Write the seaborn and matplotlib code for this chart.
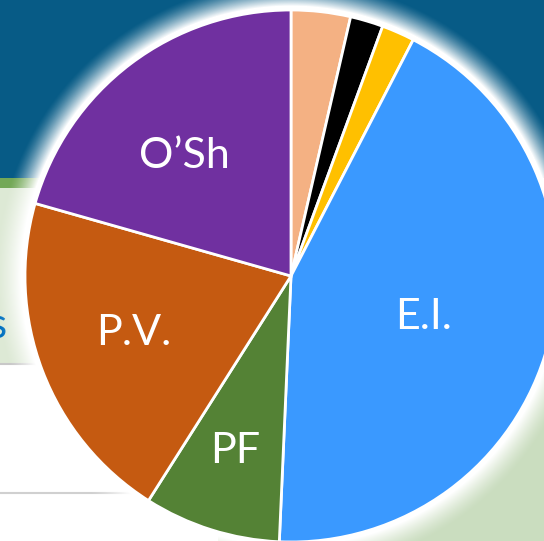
import numpy as np
import matplotlib
matplotlib.use("Agg")
import matplotlib.pyplot as plt
import seaborn as sns
from matplotlib.patches import Rectangle

# ---- data ----
categories = ["", "", "", "E.I.", "PF", "P.V.", "O’Sh"]
values = [3.6, 2.0, 2.0, 43.1, 8.3, 20.4, 20.6]
colors_hex = ["#F4B183", "#000000", "#FFC000", "#3A99FF", "#548235", "#C55A11", "#7030A0"]

sns.set_style("white")
plt.rcParams['font.family'] = ['Lato', 'DejaVu Sans']
palette = sns.color_palette(colors_hex)

W, H = 544, 541
fig = plt.figure(figsize=(W / 100, H / 100), dpi=100)
ax = fig.add_axes([0, 0, 1, 1])


def Y(y):
    return H - y


# ---- slide background ----
ax.add_patch(Rectangle((0, 0), W, H, color='white', zorder=0))
ax.add_patch(Rectangle((0, Y(178)), W, 178, color='#075B86', zorder=0.1, lw=0))
ax.add_patch(Rectangle((0, Y(188)), 220, 10, color='#73A857', zorder=0.1, lw=0))
ax.add_patch(Rectangle((0, Y(363)), 220, 175, color='#DDE9D5', zorder=0.1, lw=0))
ax.plot([0, 220], [Y(364), Y(364)], color='#C8C8C8', lw=1.5, zorder=0.2)
ax.plot([0, 200], [Y(493), Y(493)], color='#D0D0D0', lw=1.5, zorder=0.2)
ax.add_patch(Rectangle((218, 0), W - 218, Y(362), color='#CADDBF', zorder=0.1, lw=0))
ax.text(-2, Y(326), "s", color='#0070C0', fontsize=30, ha='center', va='center', zorder=0.3)

# ---- glow ----
cx, cy, R = 291, Y(276), 266
xs = np.arange(W) + 0.5
ys = H - (np.arange(H) + 0.5)
XX, YY = np.meshgrid(xs, ys)
D = np.hypot(XX - cx, YY - cy)
alpha = np.clip(1 - (D - R - 4) / 26, 0, 1) ** 1.4
img = np.zeros((H, W, 4))
img[..., :3] = 1.0
img[..., 3] = alpha
ax.imshow(img, extent=[0, W, 0, H], origin='upper', zorder=1, interpolation='bilinear')

# ---- pie ----
wedges, _ = ax.pie(values, colors=palette, startangle=90, counterclock=False,
                   center=(cx, cy), radius=R,
                   wedgeprops=dict(edgecolor='white', linewidth=2.0, zorder=2))
for w in wedges:
    w.set_zorder(2)

# label placement: (fraction of radius, angle in degrees)
label_layout = {"O’Sh": (0.605, 131.7), "P.V.": (0.63, 199.8),
                "E.I.": (0.52, -17.2), "PF": (0.69, 252.2)}
for name in categories:
    if name in label_layout:
        f, a = label_layout[name]
        tx = cx + f * R * np.cos(np.radians(a))
        ty = cy + f * R * np.sin(np.radians(a))
        ax.text(tx, ty, name, color='white', fontsize=31, ha='center', va='center', zorder=3)

ax.set_xlim(0, W)
ax.set_ylim(0, H)
ax.set_aspect('auto')
ax.axis('off')
fig.savefig("out.png", dpi=100)
